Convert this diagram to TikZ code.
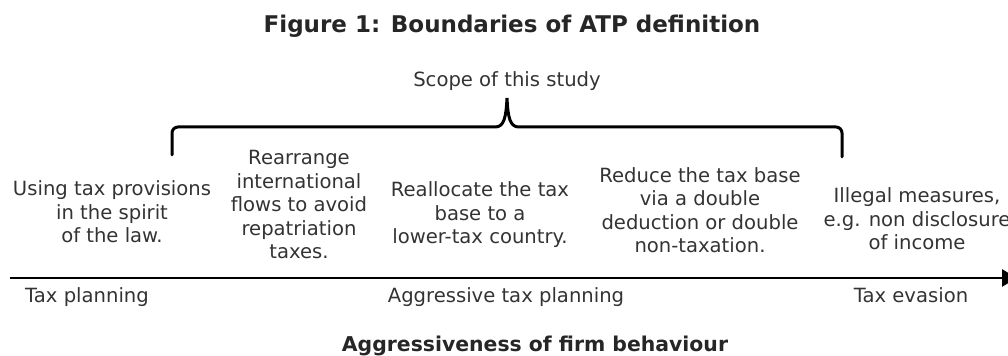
\documentclass[tikz,border=0pt]{standalone}
\usepackage{fontspec}
\setmainfont{DejaVu Sans}
\usetikzlibrary{arrows.meta,calc,positioning}
\tikzset{
    txt/.style={font=\fontsize{9.8}{11.75}\selectfont, align=center, anchor=base, inner sep=0pt, text=black!80},
    heading/.style={font=\fontsize{10.2}{12}\selectfont\bfseries, anchor=base, inner sep=0pt, text=black!85},
    bracket/.style={line width=1.5pt, line cap=round},
    axis/.style={-{Triangle[length=7.5pt,width=8.5pt]}, line width=1.25pt}
}

\begin{document}
\begin{tikzpicture}[x=0.5pt, y=-0.5pt]
  \useasboundingbox (0,0) rectangle (1008,356);

  % titles
  \node[heading, font=\fontsize{11.5}{13}\selectfont\bfseries] (title) at (512,33) {Figure 1: Boundaries of ATP definition};
  \node[txt] (scope) at (507,87) {Scope of this study};

  % brace over the aggressive part
  \coordinate (bl) at (172,155);
  \coordinate (bm) at (507,98);
  \coordinate (br) at (842,157);
  \draw[bracket] (bl) -- ($(bl)+(0,-22)$) to[out=90,in=180] ($(bl)+(6,-28)$)
      -- ($(bm)+(-12,29)$) .. controls ($(bm)+(-3,29)$) and ($(bm)+(-1,20)$) .. (bm)
      .. controls ($(bm)+(1,20)$) and ($(bm)+(3,29)$) .. ($(bm)+(12,29)$)
      -- ($(br)+(-6,-30)$) to[out=0,in=90] ($(br)+(0,-24)$) -- (br);

  % behaviours along the scale (base = last line)
  \node[txt] (spirit)  at (112,243) {Using tax provisions\\in the spirit\\of the law.};
  \node[txt] (flows)   at (299,259) {Rearrange\\international\\flows to avoid\\repatriation\\taxes.};
  \node[txt] (realloc) at (480,244) {Reallocate the tax\\base to a\\lower-tax country.};
  \node[txt] (reduce)  at (700,253) {Reduce the tax base\\via a double\\deduction or double\\non-taxation.};
  \node[txt] (illegal) at (917,250) {Illegal measures,\\e.g. non disclosure\\of income};

  % the scale itself
  \coordinate (start) at (10,278);
  \coordinate (stop)  at (1017,278);
  \draw[axis] (start) -- (stop);

  \node[txt] (plan)  at (87,303)  {Tax planning};
  \node[txt] (atp)   at (506,303) {Aggressive tax planning};
  \node[txt] (evade) at (911,303) {Tax evasion};

  \node[heading] (xlabel) at (535,352) {Aggressiveness of firm behaviour};
\end{tikzpicture}
\end{document}
